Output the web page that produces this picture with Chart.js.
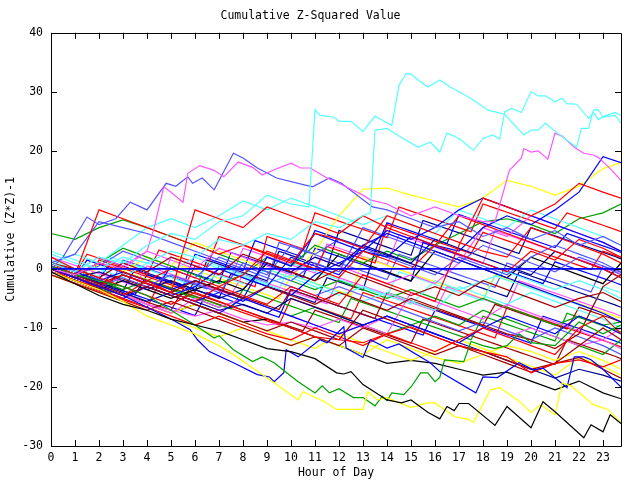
<!DOCTYPE html>
<html>
<head>
<meta charset="utf-8">
<script src="https://cdn.jsdelivr.net/npm/chart.js@4/dist/chart.umd.min.js"></script>
<style>
  body { margin: 0; background: #fff; }
</style>
</head>
<body>
<canvas id="chart" width="640" height="480"></canvas>
<script>
// hourly grid used by most of the walks
const hours = [0,1,2,3,4,5,6,7,8,9,10,11,12,13,14,15,16,17,18,19,20,21,22,23,23.75];
// half-hour grid for the jaggier walks
const halfHours = [0,0.5,1,1.5,2,2.5,3,3.5,4,4.5,5,5.5,6,6.5,7,7.5,8,8.5,9,9.5,10,10.5,11,11.5,
  12,12.5,13,13.5,14,14.5,15,15.5,16,16.5,17,17.5,18,18.5,19,19.5,20,20.5,21,21.5,22,22.5,23,23.5,23.75];

// traced outliers (own hour lists)
const cyanA_h = [0,1,2,3,4,5,6,7,8,9,10,10.75,11.0,11.2,11.8,12.0,12.5,13.0,13.5,14.2,14.5,14.8,15.0,15.3,15.7,16.2,16.6,17.1,17.6,18.2,18.9,19.7,20.0,20.3,20.6,21.1,21.5,21.9,22.1,22.4,22.6,22.8,23.0,23.5,23.75];
const cyanA_v = [1,-0.5,2,1,4,6,5,8,9,12.5,11,10.5,27,26.0,25.7,25.0,25.0,23.3,25.9,24.3,31.1,33.1,33.0,32.0,30.8,32.0,30.9,29.8,28.6,26.9,26.2,22.7,23.5,23.5,24.7,23.0,21.8,20.6,23.8,23.8,26.9,27.0,25.7,26.0,24.7];

const cyanB_h = [0,1,2,3,4,5,6,7,8,9,10,11,12,13.0,13.3,13.5,14.0,14.5,15.3,15.8,16.2,16.5,17.0,17.6,18.0,18.4,18.7,18.9,19.2,19.6,20.0,20.3,20.6,21.0,21.3,21.5,21.9,22.4,22.6,22.8,23.0,23.5,23.75];
const cyanB_v = [2.5,1,0,2,1,3,2,5,4,6,5,8,7,9,9.5,23.5,23.8,22.5,20.6,21.5,19.8,23.0,22.1,20.1,22.1,22.7,22.0,26.6,27.2,26.5,30.0,29.3,29.3,28.3,28.9,28.0,27.9,25.5,26.5,25.3,25.8,26.5,26];

const magTop_h = [0,1,2,3,4,4.3,4.7,5.0,5.5,5.7,6.2,6.8,7.2,7.8,8.4,8.8,9.3,10.0,10.4,10.8,11.5,12.0,12.5,13.0,13.3,14,15,16,17,18,18.5,19.1,19.6,19.7,20.0,20.3,20.7,21.0,21.3,21.8,22.2,22.6,22.8,23.3,23.75];
const magTop_v = [0,-1,1,0,3,7,13.9,13,11.3,16.2,17.5,16.7,15.6,18.1,17.2,15.9,16.8,17.9,17.1,17.1,15.4,14.5,13.5,12.5,11.7,11,9,10.5,9,8,8,16.7,18.8,20.4,19.8,20.0,18.6,23.0,22.5,20.6,19.6,19.3,18.9,17,15];

const lbTop_h = [0,0.5,1.5,2.0,2.7,3.3,4.0,4.8,5.2,5.7,5.9,6.3,6.8,7.6,8.0,8.6,9.4,10.3,10.9,11.6,12.1,13.0,13.4,14,15,16,17,18,19,20,21,22,23,23.75];
const lbTop_v = [0,2,8.8,7.5,8.5,11.3,10.0,14.5,14.0,15.6,14.5,15.4,13.4,19.6,18.8,17.1,15.4,14.5,13.9,15.4,14.5,11.7,10.5,10,8.5,7,8,5.5,7,5,6.5,4,5.5,4];

const blkLow_h = [0,1,2,3,4,5,6,7,8,9,10,11,11.9,12.2,12.5,13.0,14.0,14.6,15.0,15.7,16.2,16.5,16.8,17.0,17.4,18.5,19.0,20.0,20.5,21.0,22.2,22.5,23.0,23.3,23.75];
const blkLow_v = [-0.5,-2.5,-4.5,-6,-7,-8.5,-9.5,-10.5,-12,-13.5,-14,-15.2,-17.6,-17.8,-17.4,-19.6,-22.2,-22.7,-22.2,-24.3,-25.4,-23.3,-24,-22.8,-22.8,-26.5,-23.3,-26.9,-22.5,-24.2,-28.6,-26.4,-27.6,-24.7,-26.2];

const yelLow_h = [0,1,2,3,4,5,6,7,7.6,8.3,9.3,10.3,10.5,11.4,11.9,13.0,13.2,13.6,14.0,15.0,15.7,16.0,16.8,17.4,17.6,18.3,18.7,19.6,20.0,20.4,21.0,21.3,21.7,22.6,23.2,23.75];
const yelLow_v = [-0.5,-2,-3.5,-5.5,-8,-9.5,-11,-13,-14.5,-16.5,-19.3,-22.2,-20.8,-22.5,-23.8,-23.8,-20.8,-22.2,-21.8,-23.5,-22.7,-22.7,-25.0,-25.5,-26.0,-20.5,-20.1,-22.7,-24.3,-23.0,-24.7,-19.3,-19.9,-23.0,-23.8,-26.0];

const grnLow_h = [0,1,2,3,4,5,6,6.8,7.0,7.6,8.4,8.8,9.3,9.7,10.3,11.0,11.3,11.6,12.0,12.6,13.0,13.5,13.8,14.0,14.2,14.7,15.0,15.4,15.7,16.0,16.2,16.4,17.2,17.5,18,18.5,19,19.5,20,21,22,23,23.75];
const grnLow_v = [0.5,-1,-2,-3,-4.5,-7,-9.5,-11.7,-11.3,-13.7,-15.7,-14.9,-15.9,-17.2,-19.1,-21.0,-19.8,-21.0,-20.3,-21.8,-21.8,-23.2,-21.6,-22.3,-21.0,-21.3,-20.0,-17.6,-17.6,-19.1,-18.4,-15.4,-15.7,-12.3,-13,-13.5,-13,-11,-12.5,-13,-9,-11,-9.5];

const bluLow_h = [0,1,2,3,4,5,5.8,6.1,6.6,7.6,8.6,9.1,9.3,9.7,9.8,10.3,11.2,11.5,12.2,12.3,13.0,13.3,14.0,14.5,15.8,16.2,17.7,18.0,18.6,19.5,20.1,20.5,21.5,21.8,22.2,22.5,23.0,23.75];
const bluLow_v = [0,-1.5,-3,-4.5,-6.5,-8.5,-10.3,-12,-14,-15.9,-17.9,-18.3,-19.1,-17.6,-13.7,-14.9,-12.0,-12.5,-9.8,-13.4,-15.0,-12.0,-13.4,-12.7,-15.9,-17.4,-21.0,-18.3,-18.4,-15.9,-17.1,-16.8,-20.1,-14.9,-14.9,-15.4,-17,-20.0];

// the rest of the band, one value per hour
const red1 = [1,-1,10,8.5,7,5.5,4,2.5,4,2.5,1,6,5,3.5,9,7.5,6,4.5,3,2,7,5.5,4,2.5,1];
const red2 = [0,-2,-3,-4.5,-2,-4,10,8.5,7,10.5,9,7.5,6,9,7,5.5,4,9,7.5,6,4.5,3,1.5,0,-1.5];
const red3 = [0,-1.5,-3,-1,-2.5,-4,-5.5,-3,-4.5,-6,-3,-4.5,-6,-1,-2.5,-4,-5.5,4,12,10.5,9,11,14.5,13,12];
const red4 = [2,0,-1.5,-3,-4.5,-6,-4,-5.5,-7,-8.5,-10,-11.5,-12,-12.5,-11,-9.8,-11.5,-13,-14,-14.9,-17.6,-16,-15.4,-16.6,-15.4];
const red5 = [0.5,-1,1,-0.5,-2,0,-1.5,-3,-1,3,1.5,0,-1.5,3,1.5,0,4,2.5,1,-0.5,3,1.5,5,3.5,2];
const red6 = [-0.5,-2,-3.5,-5,-6.5,-8,-9.5,-8,-9.5,-11,-12,-10,-11.5,-13,-11,-12.5,-14,-12,-10,-11.5,-13,-14.5,-10,-8,-11];
const dred1 = [0,-1.5,-3,-4.5,-3,-4.5,-6,-7.5,-9,-10.5,-9,-10.5,-12,-7,-8.5,-10,-11.5,-13,-14.5,-16,-17.5,-16,-15,-17,-18.5];
const dred2 = [0.5,-1,-2.5,-1,-2.5,-4,-2,-3.5,-5,-3,-4.5,-6,-4,-5.5,-7,-5,-6.5,-8,-9.5,-11,-12,-13.5,-11,-3,-1];
const dred3 = [-1,-2.5,-4,-5.5,-7,-5.5,-7,-8.5,-10,-11.5,-13,-11.5,-13,-10,-11.5,-13,-14.5,-13,-14,-15.5,-17,-16,-13,-10,-12];
const dred4 = [1,0,-1.5,1,-0.5,2,0.5,-1,2.5,1,-0.5,-2,0,-1.5,-3,-4.5,-3,-4.5,-2,-3.5,-5,-6.5,-5,-4,-5.5];
const blue1 = [0,-1.5,-3,-4.5,-3,-4.5,-3,0,-1.5,-3,2,0.5,-1,4,6,4.5,3,1.5,0,-1.5,-3,-4.5,-6,-7.5,-9];
const blue2 = [1,-0.5,-2,-0.5,-2,-3.5,-2,-3.5,-5,2,0.5,6,4.5,3,6.5,5,7,10,12,10.5,9,7.5,6,4.5,3];
const blue3 = [0,-1.5,-3,-1,-2.5,-4,-5.5,-4,-5.5,-3,-4.5,-1,1,3,2,5.5,4,3,7,9,7.5,10,13,19,18];
const blue4 = [-0.5,-2,-3.5,-5,-3,-4.5,-6,-7.5,-5,-6.5,-8,-9.5,-11,-9.5,-8,-9.5,-11,-12.5,-10,-8,-9.5,-11,-8,-9.5,-11];
const lblue1 = [0.5,-1,0.5,3,1.5,0,-1.5,2,0.5,-1,4,2.5,5,3.5,2,0.5,-1,2,0.5,-1,2,4,2.5,1,-0.5];
const lblue2 = [1,2.5,8,7,6,4.5,3,1.5,0,-1.5,-3,-4.5,-3,-4.5,-6,-7.5,-9,-10.5,-9,-10.5,-12,-10,-11.5,-13,-14.5];
const lblue3 = [0,-1.5,-3,-1.5,-3,-1,-2.5,-4,1,-0.5,-2,1,-0.5,7,5.5,4,2.5,1,4,2.5,1,-0.5,2,0.5,-1];
const navy1 = [0,-1.5,-0.5,-2,-3.5,-2,-3.5,-5,-3.5,1,-0.5,2,0.5,4,2.5,1,5,3.5,2,0.5,-1,3,1.5,0,-1.5];
const navy2 = [0.5,-1,-2.5,-4,-5.5,-4,-5.5,-7,-6,-7.5,-5,-6.5,-8,-9.5,-8,-9.5,-11,-12.5,-14,-15.5,-17,-18.5,-17,-18,-19];
const mag1 = [0.5,-1,-2.5,-4,-6,-7,-8,-7,-8.5,-9.5,-9,-10,-8.5,-10,-8,-9.5,-11,-12.5,-10,-11.5,-10,-11.5,-13,-12,-10];
const mag2 = [1,-0.5,2,0.5,3,1.5,0,3.5,2,0.5,-1,2,0.5,-1,-2.5,-1,-2.5,1,7,5.5,9,7.5,6,4.5,3];
const mag3 = [0,-1.5,-3,-4.5,-6,-7.5,-5,-6.5,-5,-6.5,-8,-9.5,-11,-9.5,-11,-4,-5.5,-7,-8.5,-6,-7.5,-9,-10.5,-12,-13.5];
const cyan1 = [3,1.5,0,-1.5,1,-0.5,2,0.5,-1,-2.5,-1,-2.5,-4,-5.5,-4,-5.5,-7,-3,-4.5,-6,-4,-5.5,-7,-8.5,-10];
const cyan2 = [1,2.5,1,4,7,8.5,7,9,11.5,10,12,10.5,9,7.5,9,7.5,6,10,8.5,7,10,8.5,7,5.5,4];
const cyan3 = [0,-1.5,-3,-4.5,-3,-4.5,-3,-1,-2.5,0,-1.5,-3,-4.5,-3,-4.5,-6,-2,-3.5,-2,-0.5,-2,-3.5,-2,-3.5,-5];
const grn1 = [6,5,7,8.3,7,5.5,4,2.5,1,-0.5,-2,-3.5,-2,-3.5,-5,-3.5,-5,-6.5,-5,-6.5,-8,-9.5,-8,-9.5,-9];
const grn2 = [0.5,-1,1,3.5,2,0.5,-1,-2.5,-1,2,0.5,4,2.5,1,3,1.5,4,6,8,8.5,7.5,6,8.5,9.5,11];
const grn3 = [1,-0.5,-2,-3.5,-2,-3.5,-5,-6.5,-5,-6.5,-8,-6.5,-8,-9.5,-11,-9.5,-8,-9.5,-7,-8.5,-10,-11.5,-13,-14.5,-12];
const yel1 = [0,-1.5,1,-0.5,2,0.5,4.5,3,1.5,0,-1.5,3,9,13.5,13.7,12.5,11.5,10.5,12,15,14,12.5,14,17,18];
const yel2 = [0,-1.5,-3,-4.5,-6,-7.5,-6,-7.5,-9,-10.5,-12,-13.5,-11,-12.5,-14,-15.5,-14,-12,-13.5,-15,-16.5,-18,-15,-16.5,-18];
const yel3 = [-1,-2.5,-4,-5.5,-7,-8.5,-10,-11.5,-10,-11.5,-13,-11.5,-13,-14.5,-12,-13.5,-15,-16,-14.5,-13,-14,-15.5,-14,-15.5,-17];
const blk1 = [0,-1.5,-3,-4.5,-6,-7.5,-6,-7.5,-9,-8.5,-10,-11.5,-13,-14.5,-16,-15.5,-16,-17,-18,-17.5,-19,-20.5,-19,-21,-22];
const blk2 = [-0.5,-2,-3.5,-2,-3.5,-5,-3.5,-2,-3.5,1,-0.5,-2,2.5,1,-0.5,-2,3,1.5,0,-1.5,2,0.5,-1,-2.5,1];

// half-hourly walks in the middle band
const hRed1 = [0.5,-0.2,-0.9,2.5,1.8,1.1,0.4,-0.3,-1,3.2,2.5,1.8,1.1,0.4,5.5,4.8,4.1,3.4,2.7,2,1.3,0.6,-0.1,3.8,3.1,2.4,1.7,1,7.5,6.8,6.1,5.4,4.7,4,3.3,2.6,6.2,5.5,4.8,4.1,3.4,2.7,2,1.3,0.6,-0.1,3,2.3,1.9];
const hDred1 = [-0.5,-1.2,-1.9,-2.6,-3.3,-1,-1.7,-2.4,-3.1,-3.8,-4.5,-5.2,-2,-2.7,-3.4,-4.1,-4.8,-5.5,-6.2,-6.9,-3.5,-4.2,-4.9,-5.6,-6.3,-7,-7.7,-8.4,-4,-4.7,-5.4,-6.1,-6.8,-7.5,-8.2,-8.9,-9.6,-6,-6.7,-7.4,-8.1,-8.8,-9.5,-10.2,-6.5,-7.2,-7.9,-8.6,-9];
const hBlue1 = [0,-0.7,-1.4,1.5,0.8,0.1,-0.6,-1.3,-2,-2.7,0.5,-0.2,-0.9,-1.6,-2.3,2.8,2.1,1.4,0.7,0,-0.7,-1.4,3.5,2.8,2.1,1.4,0.7,0,-0.7,-1.4,-2.1,4.5,3.8,3.1,2.4,1.7,1,0.3,-0.4,-1.1,-1.8,-2.5,1.2,0.5,-0.2,-0.9,-1.6,-2.3,-2.7];
const hMag1 = [2,1.3,0.6,-0.1,-0.8,-1.5,-2.2,-2.9,0.5,-0.2,-0.9,-1.6,-2.3,-3,-3.7,-4.4,-1,-1.7,-2.4,-3.1,-3.8,-4.5,-5.2,-5.9,-1.5,-2.2,-2.9,-3.6,-4.3,-5,-5.7,-6.4,-7.1,-3,-3.7,-4.4,-5.1,-5.8,-6.5,-2,-2.7,-3.4,-4.1,-4.8,-5.5,-6.2,-6.9,-7.6,-8];
const hCyan1 = [1.5,0.8,0.1,-0.6,-1.3,2,1.3,0.6,-0.1,-0.8,-1.5,-2.2,-2.9,0.8,0.1,-0.6,-1.3,-2,-2.7,-3.4,1,0.3,-0.4,-1.1,-1.8,-2.5,-3.2,-3.9,-4.6,-0.5,-1.2,-1.9,-2.6,-3.3,-4,-4.7,-5.4,-1.2,-1.9,-2.6,-3.3,-4,-4.7,-5.4,-6.1,-6.8,-3,-3.7,-4];
const hGrn1 = [-0.5,-1.2,-1.9,-2.6,-3.3,-4,-0.5,-1.2,-1.9,-2.6,-3.3,-4,-4.7,-5.4,-6.1,-6.8,-3.5,-4.2,-4.9,-5.6,-6.3,-7,-7.7,-8.4,-9.1,-5,-5.7,-6.4,-7.1,-7.8,-8.5,-9.2,-9.9,-10.6,-11.3,-12,-8,-8.7,-9.4,-10.1,-10.8,-11.5,-12.2,-7.5,-8.2,-8.9,-9.6,-10.3,-10.7];
const hNavy1 = [0.5,-0.2,-0.9,-1.6,-2.3,-3,-3.7,0,-0.7,-1.4,-2.1,-2.8,-3.5,-4.2,-4.9,-0.8,-1.5,-2.2,-2.9,-3.6,-4.3,-5,-5.7,-1.5,-2.2,-2.9,-3.6,3,2.3,1.6,0.9,0.2,-0.5,-1.2,-1.9,-2.6,-3.3,-4,-4.7,-0.5,-1.2,-1.9,-2.6,-3.3,-4,-4.7,-5.4,-6.1,-6.5];
const hRed2 = [-1,-1.7,-2.4,-3.1,-3.8,-4.5,-5.2,-5.9,-6.6,-2.5,-3.2,-3.9,-4.6,-5.3,-6,-6.7,-7.4,-8.1,-8.8,-9.5,-5,-5.7,-6.4,-7.1,-7.8,-8.5,-4,-4.7,-5.4,-6.1,-6.8,-7.5,-8.2,-8.9,-9.6,-10.3,-11,-11.7,-6.5,-7.2,-7.9,-8.6,-9.3,-10,-10.7,-11.4,-12.1,-12.8,-13.2];
const hYel1 = [0.5,-0.2,-0.9,-1.6,1,0.3,-0.4,-1.1,-1.8,-2.5,-3.2,0.5,-0.2,-0.9,-1.6,-2.3,-3,-3.7,-4.4,-5.1,-1,-1.7,-2.4,-3.1,-3.8,-4.5,2,1.3,0.6,-0.1,-0.8,-1.5,-2.2,-2.9,-3.6,-4.3,-5,-1,-1.7,-2.4,-3.1,-3.8,-4.5,-5.2,-5.9,-6.6,-7.3,-8,-8.4];
const hLblue1 = [1,0.3,-0.4,-1.1,-1.8,-2.5,1.5,0.8,0.1,-0.6,-1.3,-2,-2.7,-3.4,0.5,-0.2,-0.9,-1.6,-2.3,4.5,3.8,3.1,2.4,1.7,1,0.3,-0.4,-1.1,-1.8,2.5,1.8,1.1,0.4,-0.3,-1,-1.7,-2.4,-3.1,1,0.3,-0.4,-1.1,-1.8,-2.5,-3.2,-3.9,0.5,-0.2,-0.6];
const hDred2 = [0,-0.7,-1.4,-2.1,-2.8,-3.5,-4.2,-4.9,-5.6,-6.3,-7,-3.5,-4.2,-4.9,-5.6,-6.3,-7,-7.7,-8.4,-9.1,-9.8,-10.5,-7,-7.7,-8.4,-9.1,-9.8,-10.5,-11.2,-11.9,-12.6,-8.5,-9.2,-9.9,-10.6,-11.3,-12,-12.7,-13.4,-14.1,-14.8,-15.5,-16.2,-12,-12.7,-13.4,-14.1,-14.8,-15.2];
const hBlue2 = [0.5,-0.2,-0.9,-1.6,-2.3,-3,-3.7,-4.4,-5.1,-5.8,-6.5,-7.2,-7.9,-4,-4.7,-5.4,-6.1,-6.8,-7.5,-8.2,-3.5,-4.2,-4.9,-5.6,-6.3,-7,-7.7,-8.4,-9.1,-9.8,-10.5,-11.2,-7,-7.7,-8.4,-9.1,-9.8,-10.5,-11.2,-11.9,-12.6,-8,-8.7,-9.4,-10.1,-10.8,-11.5,-12.2,-12.6];
const hRed3 = [0,-0.7,-1.4,-2.1,1.5,0.8,0.1,-0.6,-1.3,-2,-2.7,-3.4,0.5,-0.2,-0.9,-1.6,-2.3,-3,5.5,4.8,4.1,3.4,9.5,8.8,8.1,7.4,6.7,6,5.3,10.5,9.8,9.1,8.4,7.7,7,6.3,11,10.3,9.6,8.9,8.2,7.5,6.8,9.5,8.8,8.1,7.4,6.7,6.3];
const hBlue3 = [1,0.3,-0.4,-1.1,-1.8,1.2,0.5,-0.2,-0.9,-1.6,-2.3,-3,2.5,1.8,1.1,0.4,-0.3,4.8,4.1,3.4,2.7,2,6.5,5.8,5.1,4.4,3.7,3,7.8,7.1,6.4,5.7,5,4.3,9.2,8.5,7.8,7.1,6.4,5.7,5,4.3,3.6,6,5.3,4.6,3.9,3.2,2.8];
const hMag2 = [0,-0.7,-1.4,-2.1,-2.8,-3.5,-1,-1.7,-2.4,-3.1,2,1.3,0.6,-0.1,-0.8,-1.5,3.5,2.8,2.1,1.4,0.7,0,-0.7,4.2,3.5,2.8,2.1,1.4,0.7,5.8,5.1,4.4,3.7,3,2.3,1.6,0.9,6.5,5.8,5.1,4.4,3.7,3,2.3,1.6,0.9,0.2,-0.5,-0.9];
const hNavy2 = [0.5,-0.2,-0.9,-1.6,-2.3,-3,-3.7,-4.4,-1,-1.7,-2.4,-3.1,-3.8,1.5,0.8,0.1,-0.6,-1.3,-2,3,2.3,1.6,0.9,0.2,6.5,5.8,5.1,4.4,3.7,3,2.3,8.2,7.5,6.8,6.1,5.4,4.7,4,3.3,2.6,7,6.3,5.6,4.9,4.2,3.5,2.8,2.1,1.7];

const zeroLine_h = [0, 23.75];
const zeroLine_v = [0, 0];

const RED = '#ff0000', GREEN = '#00a000', BLUE = '#0000ff', MAGENTA = '#ff55ff',
      CYAN = '#55ffff', YELLOW = '#ffff00', BLACK = '#000000', DRED = '#a00000',
      LBLUE = '#5555ff', NAVY = '#000090';

const series = [
  [zeroLine_h, zeroLine_v, BLUE, 1.6],
  [cyanA_h, cyanA_v, CYAN], [cyanB_h, cyanB_v, CYAN],
  [magTop_h, magTop_v, MAGENTA], [lbTop_h, lbTop_v, LBLUE],
  [blkLow_h, blkLow_v, BLACK], [yelLow_h, yelLow_v, YELLOW],
  [grnLow_h, grnLow_v, GREEN], [bluLow_h, bluLow_v, BLUE],
  [hours, red1, RED], [hours, red2, RED], [hours, red3, RED],
  [hours, red4, RED], [hours, red5, RED], [hours, red6, RED],
  [hours, dred1, DRED], [hours, dred2, DRED], [hours, dred3, DRED], [hours, dred4, DRED],
  [hours, blue1, BLUE], [hours, blue2, BLUE], [hours, blue3, BLUE], [hours, blue4, BLUE],
  [hours, lblue1, LBLUE], [hours, lblue2, LBLUE], [hours, lblue3, LBLUE],
  [hours, navy1, NAVY], [hours, navy2, NAVY],
  [hours, mag1, MAGENTA], [hours, mag2, MAGENTA], [hours, mag3, MAGENTA],
  [hours, cyan1, CYAN], [hours, cyan2, CYAN], [hours, cyan3, CYAN],
  [hours, grn1, GREEN], [hours, grn2, GREEN], [hours, grn3, GREEN],
  [hours, yel1, YELLOW], [hours, yel2, YELLOW], [hours, yel3, YELLOW],
  [hours, blk1, BLACK], [hours, blk2, BLACK],
  [halfHours, hRed1, RED], [halfHours, hDred1, DRED], [halfHours, hBlue1, BLUE],
  [halfHours, hMag1, MAGENTA], [halfHours, hCyan1, CYAN], [halfHours, hGrn1, GREEN],
  [halfHours, hNavy1, NAVY], [halfHours, hRed2, RED], [halfHours, hYel1, YELLOW],
  [halfHours, hLblue1, LBLUE], [halfHours, hDred2, DRED], [halfHours, hBlue2, BLUE],
  [halfHours, hRed3, RED], [halfHours, hBlue3, BLUE], [halfHours, hMag2, MAGENTA],
  [halfHours, hNavy2, NAVY],
];

const datasets = series.map(([h, v, color, w]) => ({
  data: v.map((val, i) => ({ x: h[i], y: val })),
  borderColor: color,
  borderWidth: w || 1.2,
  pointRadius: 0,
  tension: 0,
  fill: false,
}));

const font = { family: '"DejaVu Sans Mono", monospace', size: 11.5, weight: 'normal' };

// gnuplot style box with inward ticks on all four sides
const frame = {
  id: 'frame',
  afterDatasetsDraw(chart) {
    const { ctx, chartArea: a, scales: { x, y } } = chart;
    ctx.save();
    ctx.strokeStyle = '#000';
    ctx.lineWidth = 1;
    ctx.beginPath();
    ctx.rect(Math.round(a.left) + 0.5, Math.round(a.top) + 0.5,
             Math.round(a.right) - Math.round(a.left), Math.round(a.bottom) - Math.round(a.top));
    x.ticks.forEach(t => {
      const px = Math.round(x.getPixelForValue(t.value)) + 0.5;
      ctx.moveTo(px, a.bottom); ctx.lineTo(px, a.bottom - 6);
      ctx.moveTo(px, a.top); ctx.lineTo(px, a.top + 6);
    });
    y.ticks.forEach(t => {
      const py = Math.round(y.getPixelForValue(t.value)) + 0.5;
      ctx.moveTo(a.left, py); ctx.lineTo(a.left + 6, py);
      ctx.moveTo(a.right, py); ctx.lineTo(a.right - 6, py);
    });
    ctx.stroke();
    ctx.restore();
  }
};

new Chart(document.getElementById('chart').getContext('2d'), {
  type: 'line',
  data: { datasets },
  options: {
    responsive: false,
    animation: false,
    devicePixelRatio: 1,
    layout: { padding: { left: 0, right: 19, top: 0, bottom: 0 } },
    plugins: {
      legend: { display: false },
      tooltip: { enabled: false },
      title: {
        display: true,
        text: 'Cumulative Z-Squared Value',
        color: '#000',
        font: font,
        padding: { top: 9, bottom: 10 },
      },
    },
    scales: {
      x: {
        type: 'linear',
        min: 0,
        max: 23.75,
        grid: { display: false },
        border: { display: false },
        ticks: { stepSize: 1, includeBounds: false, autoSkip: false, maxRotation: 0,
                 color: '#000', font: font, padding: -3 },
        title: { display: true, text: 'Hour of Day', color: '#000', font: font,
                 padding: { top: 0, bottom: 0 } },
        afterFit(s) { s.height = 34; },
      },
      y: {
        min: -30,
        max: 40,
        grid: { display: false },
        border: { display: false },
        ticks: { stepSize: 10, color: '#000', font: font, padding: 0 },
        title: { display: true, text: 'Cumulative (Z*Z)-1', color: '#000', font: font,
                 padding: { top: 4, bottom: 0 } },
        afterFit(s) { s.width = 51; },
      },
    },
  },
  plugins: [frame],
});
</script>
</body>
</html>
